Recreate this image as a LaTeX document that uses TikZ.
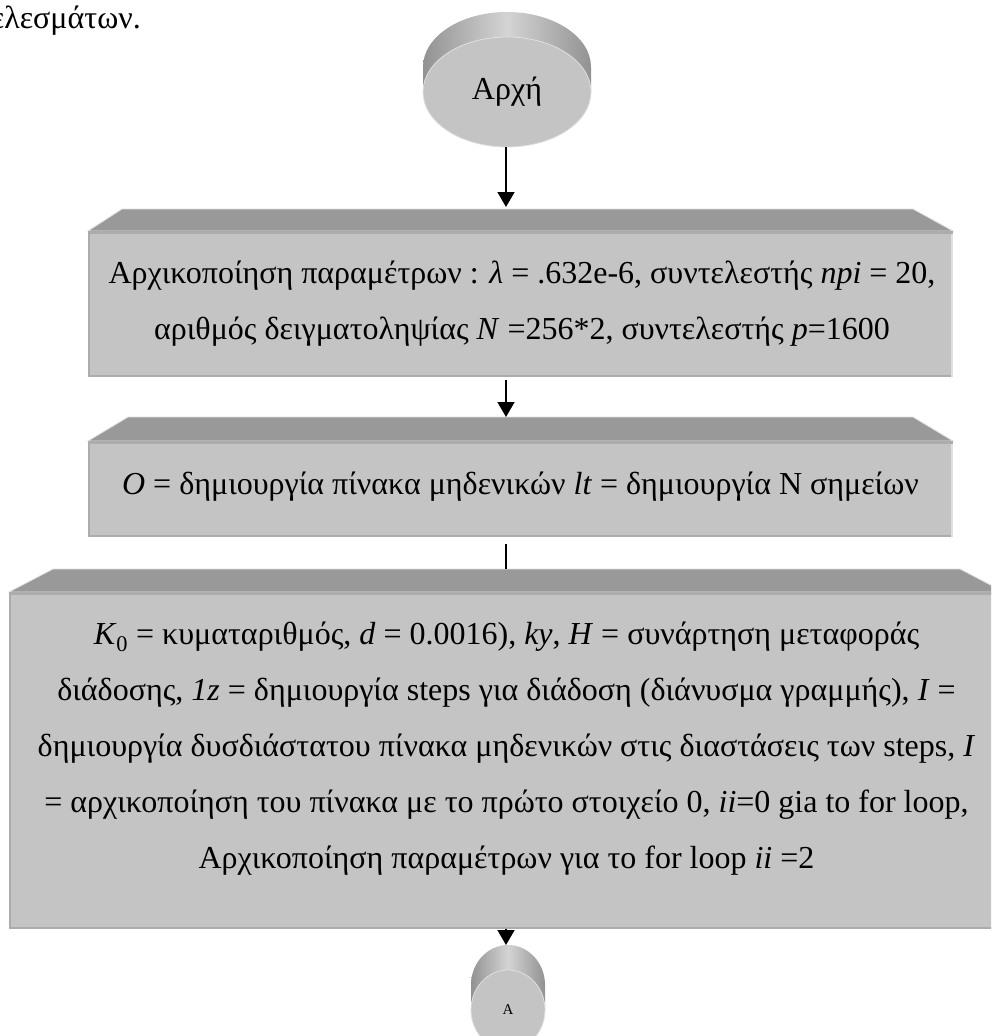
\documentclass[tikz,border=0pt]{standalone}
\usepackage{fontspec}
\setmainfont{Liberation Serif}
\usetikzlibrary{shapes.geometric,arrows.meta,calc}

\definecolor{facegray}{HTML}{C4C4C4}
\definecolor{bevelgray}{HTML}{999999}
\definecolor{edgegray}{HTML}{ACACAC}
\definecolor{rimlight}{HTML}{E0E0E0}
\definecolor{sidedark}{HTML}{929292}
\definecolor{sidelight}{HTML}{D4D4D4}

\tikzset{
  face/.style={rectangle, fill=facegray, inner sep=0pt, outer sep=0pt},
  disc/.style={ellipse, fill=facegray, draw=rimlight, line width=0.8pt, inner sep=0pt, outer sep=0pt},
  body/.style={left color=sidedark, right color=sidedark, middle color=sidelight},
  boxtext/.style={align=center, font=\fontsize{32}{56}\selectfont, inner sep=0pt},
  flow/.style={line width=1.5pt, -{Triangle[length=15pt,width=17pt]}},
  plainline/.style={line width=1.5pt},
  bevel/.style={fill=bevelgray, draw=rimlight, line width=0.8pt, line join=miter},
  leftbottom/.style={draw=edgegray, line width=2pt},
  topband/.style={draw=edgegray, line width=3pt},
  rightrim/.style={draw=rimlight, line width=2pt},
}

\begin{document}
\begin{tikzpicture}[x=1pt,y=-1pt]
\useasboundingbox (0,0) rectangle (991,1036);
\fill[white] (0,0) rectangle (991,1036);
\clip (0,0) rectangle (991,1036);

% tail of the preceding sentence
\node[font=\fontsize{32}{40}\selectfont, anchor=base east, inner sep=0pt] (caption) at (141,28) {ελεσμάτων.};

% start terminal: shaded body behind a flat front disc
\shade[body] (507,67) ellipse [x radius=84pt, y radius=55pt] (423,67) rectangle (591,92);
\node[disc, minimum width=168pt, minimum height=110pt, font=\fontsize{32}{40}\selectfont] (start) at (507,92) {\raisebox{-7pt}{Αρχή}};

% box 1
\node[face, minimum width=865pt, minimum height=146pt] (b1) at (520.5,304) {};
\path[bevel] (b1.north west) -- ($(b1.north west)+(34,-22)$) -- ($(b1.north east)+(-40,-22)$) -- (b1.north east) -- cycle;
\path[leftbottom] ($(b1.north west)+(1,0)$) -- ($(b1.south west)+(1,-1)$) -- ($(b1.south east)+(0,-1)$);
\path[topband] ($(b1.north west)+(0,1.5)$) -- ($(b1.north east)+(0,1.5)$);
\path[rightrim] ($(b1.north east)+(-1,3)$) -- ($(b1.south east)+(-1,0)$);
\node[boxtext] (t1) at (522,304) {Αρχικοποίηση παραμέτρων : \textit{λ} = .632e-6, συντελεστής \textit{npi} = 20,\\
αριθμός δειγματοληψίας \textit{N} =256*2, συντελεστής \textit{p}=1600};

% box 2
\node[face, minimum width=865pt, minimum height=96pt] (b2) at (520.5,489) {};
\path[bevel] (b2.north west) -- ($(b2.north west)+(40,-24)$) -- ($(b2.north east)+(-40,-24)$) -- (b2.north east) -- cycle;
\path[leftbottom] ($(b2.north west)+(1,0)$) -- ($(b2.south west)+(1,-1)$) -- ($(b2.south east)+(0,-1)$);
\path[topband] ($(b2.north west)+(0,1.5)$) -- ($(b2.north east)+(0,1.5)$);
\path[rightrim] ($(b2.north east)+(-1,3)$) -- ($(b2.south east)+(-1,0)$);
\node[boxtext] (t2) at (520.5,487) {\textit{O} = δημιουργία πίνακα μηδενικών \textit{lt} = δημιουργία Ν σημείων};

% box 3
\node[face, minimum width=995pt, minimum height=337pt] (b3) at (506.5,760.5) {};
\path[bevel] (b3.north west) -- ($(b3.north west)+(44,-23)$) -- ($(b3.north east)+(-44,-23)$) -- (b3.north east) -- cycle;
\path[leftbottom] ($(b3.north west)+(1,0)$) -- ($(b3.south west)+(1,-1)$) -- ($(b3.south east)+(0,-1)$);
\path[topband] ($(b3.north west)+(0,1.5)$) -- ($(b3.north east)+(0,1.5)$);
\node[boxtext] (t3) at (506.5,749) {\textit{K}\textsubscript{0} = κυματαριθμός, \textit{d} = 0.0016), \textit{ky}, \textit{H} = συνάρτηση μεταφοράς\\
διάδοσης, \textit{1z} = δημιουργία steps για διάδοση (διάνυσμα γραμμής), \textit{I} =\\
δημιουργία δυσδιάστατου πίνακα μηδενικών στις διαστάσεις των steps, \textit{I}\\
= αρχικοποίηση του πίνακα με το πρώτο στοιχείο 0, \textit{ii}=0 gia to for loop,\\
Αρχικοποίηση παραμέτρων για το for loop \textit{ii} =2};

% off-page connector A
\shade[body] (508,985) ellipse [x radius=37pt, y radius=40pt] (471,985) rectangle (545,1010);
\node[disc, minimum width=74pt, minimum height=80pt, font=\fontsize{15}{18}\selectfont] (A) at (508,1010) {\raisebox{-4pt}{A}};

% connectors
\coordinate (b1in) at (506,207);
\coordinate (b2in) at (506,417);
\coordinate (b3in) at (506,569);
\coordinate (Ain) at (506,945);
\draw[flow] (start.south -| b1in) -- (b1in);
\draw[flow] ($(b1.south -| b2in)+(0,3)$) -- (b2in);
\draw[plainline] ($(b2.south -| b3in)+(0,7)$) -- (b3in);
\draw[flow] (b3.south -| Ain) -- (Ain);
\end{tikzpicture}
\end{document}
